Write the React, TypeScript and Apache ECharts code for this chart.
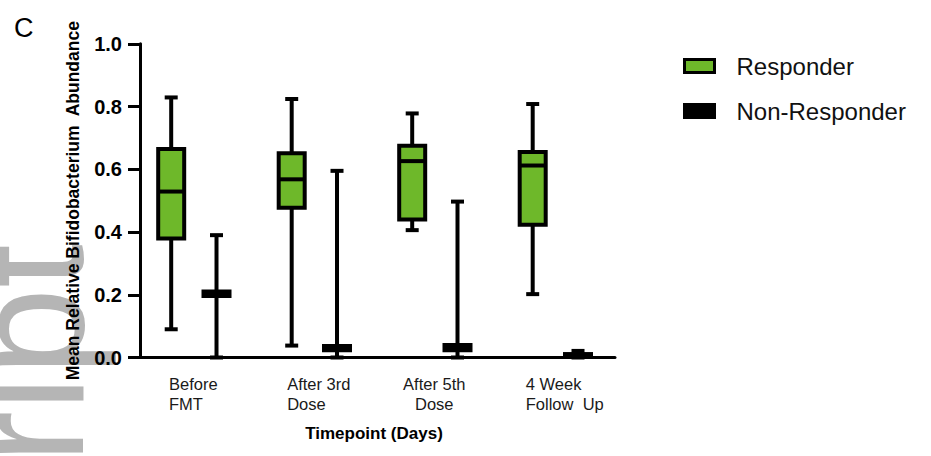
import React, { useEffect, useRef } from 'react';
import * as echarts from 'echarts';

const categories = ['Before\nFMT', 'After 3rd\nDose', 'After 5th\nDose', '4 Week\nFollow  Up'];
const yTickValues = [0, 0.2, 0.4, 0.6, 0.8, 1.0];
const yTickLabels = ['0.0', '0.2', '0.4', '0.6', '0.8', '1.0'];
const seriesNames = ['Responder', 'Non-Responder'];
// each row: [min, Q1, median, Q3, max]
const responder = [
  [0.09, 0.379, 0.529, 0.665, 0.829],
  [0.038, 0.477, 0.568, 0.651, 0.824],
  [0.406, 0.44, 0.626, 0.675, 0.778],
  [0.202, 0.423, 0.612, 0.655, 0.808],
];
const nonResponder = [
  [0, 0.196, 0.203, 0.21, 0.39],
  [0, 0.023, 0.03, 0.037, 0.595],
  [0, 0.023, 0.032, 0.04, 0.497],
  [0, 0.002, 0.006, 0.011, 0.021],
];

// styles (not data)
const GREEN = '#6eb82a';
const labelStyleKey = ['l', 'l', 'c', 'l'];
const labelPadLeft = [0, 10, 0, 20];

function makeRender(offsetFrac: number, fill: string) {
  return (params: any, api: any) => {
    const i = api.value(0);
    const band = api.size([1, 0])[0];
    const cx = api.coord([i, 0])[0] + offsetFrac * band;
    const yv = (k: number) => api.coord([i, api.value(k)])[1];
    const yMin = yv(1), yQ1 = yv(2), yMed = yv(3), yQ3 = yv(4), yMax = yv(5);
    const bw = 26, cw = 13, lw = 4;
    const line = (x1: number, y1: number, x2: number, y2: number) => ({
      type: 'line',
      shape: { x1, y1, x2, y2 },
      style: { stroke: '#000', lineWidth: lw },
    });
    return {
      type: 'group',
      children: [
        line(cx, yMax, cx, yMin),
        line(cx - cw / 2, yMax, cx + cw / 2, yMax),
        line(cx - cw / 2, yMin, cx + cw / 2, yMin),
        {
          type: 'rect',
          shape: { x: cx - bw / 2, y: yQ3, width: bw, height: yQ1 - yQ3 },
          style: { fill, stroke: '#000', lineWidth: lw },
        },
        line(cx - bw / 2, yMed, cx + bw / 2, yMed),
      ],
    };
  };
}

export default function App() {
  const ref = useRef<HTMLDivElement>(null);
  useEffect(() => {
    if (!ref.current) return;
    const chart = echarts.init(ref.current, null, { renderer: 'svg' });
    const xRich: any = {};
    labelPadLeft.forEach((p, i) => {
      xRich['t' + i] = {
        align: labelStyleKey[i] === 'l' ? 'left' : 'center',
        fontSize: 16.5,
        lineHeight: 20,
        fontFamily: 'Liberation Sans',
        color: '#1a1a1a',
        padding: [0, 0, 0, p],
      };
    });
    chart.setOption({
      animation: false,
      backgroundColor: '#ffffff',
      grid: { left: 133, right: 316, top: 43.8, bottom: 98.5 },
      legend: {
        orient: 'vertical',
        left: 683,
        top: 54,
        padding: 0,
        itemWidth: 30,
        itemHeight: 13,
        itemGap: 21,
        icon: 'rect',
        selectedMode: false,
        textStyle: {
          fontSize: 24,
          lineHeight: 24,
          fontFamily: 'Liberation Sans',
          color: '#111',
          padding: [0, 0, 0, 17],
        },
        data: [
          { name: seriesNames[0], itemStyle: { color: GREEN, borderColor: '#000', borderWidth: 3 } },
          { name: seriesNames[1], itemStyle: { color: '#000', borderColor: '#000', borderWidth: 3 } },
        ],
      },
      graphic: [
        {
          type: 'text',
          z: -1,
          silent: true,
          x: 107,
          y: 244,
          rotation: Math.PI / 2,
          style: {
            text: 'Author Manuscript',
            fontSize: 158,
            fontFamily: 'Liberation Sans',
            fill: '#b5b5b5',
            align: 'right',
            verticalAlign: 'bottom',
          },
        },
        {
          type: 'text',
          x: 14,
          y: 14,
          style: { text: 'C', fontSize: 27, fontFamily: 'Liberation Sans', fill: '#000' },
        },
      ],
      xAxis: {
        type: 'category',
        data: categories,
        boundaryGap: true,
        axisLine: { lineStyle: { color: '#000', width: 3 } },
        axisTick: { alignWithLabel: true, length: 12, lineStyle: { color: '#000', width: 3 } },
        axisLabel: {
          interval: 0,
          margin: 16,
          formatter: (v: string, i: number) =>
            v.split('\n').map((s) => `{t${i}|${s}}`).join('\n'),
          rich: xRich,
        },
        name: 'Timepoint (Days)',
        nameLocation: 'middle',
        nameGap: 67,
        nameTextStyle: { fontSize: 17, fontWeight: 'bold', color: '#000', fontFamily: 'Liberation Sans' },
      },
      yAxis: {
        type: 'value',
        min: 0,
        max: 1,
        interval: 0.2,
        offset: -7,
        axisLine: { show: true, lineStyle: { color: '#000', width: 3 } },
        axisTick: { show: true, length: 12, lineStyle: { color: '#000', width: 3 } },
        splitLine: { show: false },
        axisLabel: {
          margin: 18,
          fontSize: 20,
          fontWeight: 'bold',
          color: '#000',
          fontFamily: 'Liberation Sans',
          formatter: (v: number) => {
            const k = yTickValues.findIndex((t) => Math.abs(t - v) < 1e-6);
            return k >= 0 ? yTickLabels[k] : '';
          },
        },
        name: 'Mean Relative Bifidobacterium  Abundance',
        nameLocation: 'middle',
        nameGap: 58,
        nameTextStyle: { fontSize: 17.5, fontWeight: 'bold', color: '#000', fontFamily: 'Liberation Sans' },
      },
      series: [
        {
          name: seriesNames[0],
          type: 'custom',
          itemStyle: { color: GREEN },
          renderItem: makeRender(-0.183, GREEN),
          encode: { x: 0, y: [1, 2, 3, 4, 5] },
          data: responder.map((d, i) => [i, ...d]),
          z: 3,
        },
        {
          name: seriesNames[1],
          type: 'custom',
          itemStyle: { color: '#000' },
          renderItem: makeRender(0.193, '#000'),
          encode: { x: 0, y: [1, 2, 3, 4, 5] },
          data: nonResponder.map((d, i) => [i, ...d]),
          z: 3,
        },
      ],
    });
    return () => chart.dispose();
  }, []);
  return (
    <div
      ref={ref}
      style={{ position: 'fixed', left: 0, top: 0, width: 931, height: 456, background: '#fff' }}
    />
  );
}
